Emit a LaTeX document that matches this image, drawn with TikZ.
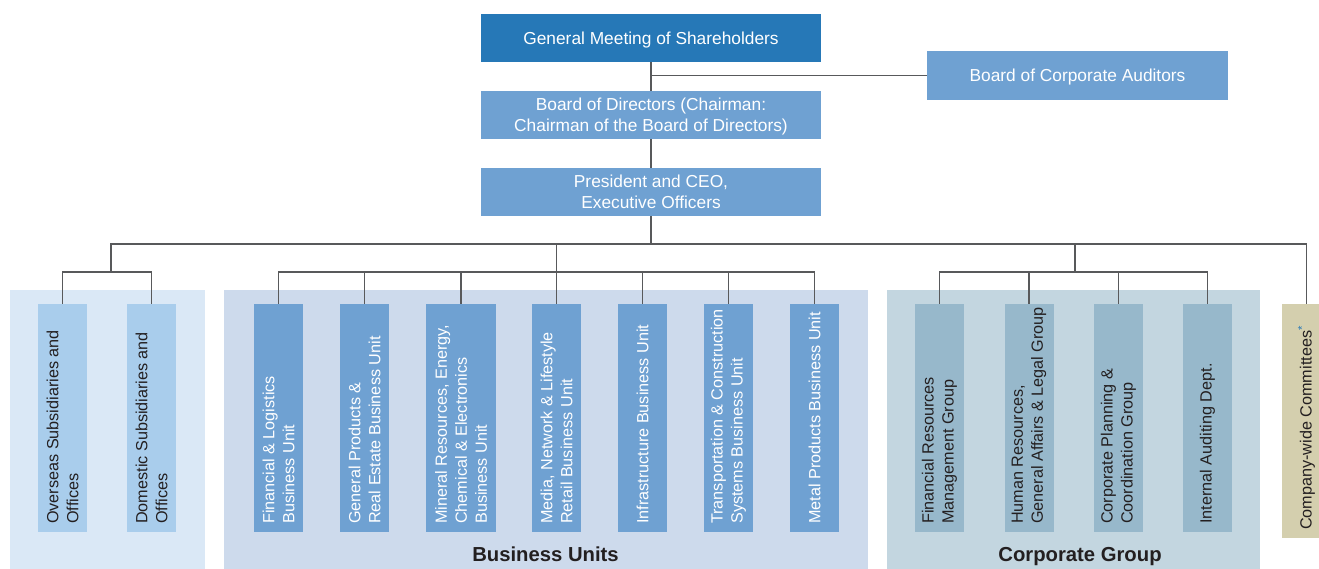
\documentclass[tikz,border=0pt]{standalone}
\usepackage{fontspec}
\setmainfont{Liberation Sans}
\definecolor{darkblue}{HTML}{2678B7}
\definecolor{midblue}{HTML}{6FA1D2}
\definecolor{leftbg}{HTML}{DAE8F6}
\definecolor{leftbox}{HTML}{A9CDEC}
\definecolor{bubg}{HTML}{CDDAEC}
\definecolor{corpbg}{HTML}{C3D6E0}
\definecolor{corpbox}{HTML}{97B8CB}
\definecolor{cwbox}{HTML}{D4CFAE}
\definecolor{linegray}{HTML}{58595B}
\definecolor{txtdark}{HTML}{231F20}
\begin{document}
\begin{tikzpicture}[x=0.75pt,y=-0.75pt,
  hbox/.style={rectangle, fill=midblue, minimum width=255pt, minimum height=36pt, inner sep=0pt, text=white, align=center, text depth=0pt, font=\fontsize{13}{15.8}\selectfont},
  vbox/.style={rectangle, minimum width=36.75pt, minimum height=171pt, inner sep=0pt},
  vlabel/.style={rotate=90, anchor=west, align=left, inner sep=0pt, font=\fontsize{12.15}{15}\selectfont},
  grouplabel/.style={anchor=base, inner sep=0pt, text=txtdark, font=\fontsize{15.2}{18}\selectfont\bfseries},
  conn/.style={draw=linegray, line width=1.1pt}]
\useasboundingbox (0,0) rectangle (1319,568);

% background panels
\fill[leftbg] (10,290) rectangle (205,570);
\fill[bubg] (224,290) rectangle (868,570);
\fill[corpbg] (887,290) rectangle (1260,570);

% top boxes
\node[hbox, fill=darkblue] (gms) at (651,38) {General Meeting of Shareholders};
\node[hbox] (bod) at (651,115) {Board of Directors (Chairman:\\Chairman of the Board of Directors)};
\node[hbox] (pres) at (651,192) {President and CEO,\\Executive Officers};
\node[hbox, minimum width=225.75pt, minimum height=36.75pt] (aud) at (1077.5,75.5) {Board of Corporate Auditors};

% left group
\node[vbox, fill=leftbox] (os) at (62.5,418) {};
\node[vbox, fill=leftbox] (ds) at (151.5,418) {};
\node[vlabel, text=txtdark] (osl) at (62.5,524) {Overseas Subsidiaries and\\Offices};
\node[vlabel, text=txtdark] (dsl) at (151.5,524) {Domestic Subsidiaries and\\Offices};

% business units
\node[vbox, fill=midblue] (bu1) at (278.5,418) {};
\node[vbox, fill=midblue] (bu2) at (364.5,418) {};
\node[vbox, fill=midblue, minimum width=52.5pt] (bu3) at (461,418) {};
\node[vbox, fill=midblue] (bu4) at (556.5,418) {};
\node[vbox, fill=midblue] (bu5) at (642.5,418) {};
\node[vbox, fill=midblue] (bu6) at (728.5,418) {};
\node[vbox, fill=midblue] (bu7) at (814.5,418) {};
\node[vlabel, text=white] (bu1l) at (278.5,524) {Financial \& Logistics\\Business Unit};
\node[vlabel, text=white] (bu2l) at (364.5,524) {General Products \&\\Real Estate Business Unit};
\node[vlabel, text=white] (bu3l) at (461,524) {Mineral Resources, Energy,\\Chemical \& Electronics\\Business Unit};
\node[vlabel, text=white] (bu4l) at (556.5,524) {Media, Network \& Lifestyle\\Retail Business Unit};
\node[vlabel, text=white] (bu5l) at (642.5,524) {Infrastructure Business Unit};
\node[vlabel, text=white] (bu6l) at (728.5,524) {Transportation \& Construction\\Systems Business Unit};
\node[vlabel, text=white] (bu7l) at (814.5,524) {Metal Products Business Unit};
\node[grouplabel] (bulab) at (545.5,561) {Business Units};

% corporate group
\node[vbox, fill=corpbox] (cg1) at (939.5,418) {};
\node[vbox, fill=corpbox] (cg2) at (1029,418) {};
\node[vbox, fill=corpbox] (cg3) at (1118.5,418) {};
\node[vbox, fill=corpbox] (cg4) at (1207.5,418) {};
\node[vlabel, text=txtdark] (cg1l) at (939.5,524) {Financial Resources\\Management Group};
\node[vlabel, text=txtdark] (cg2l) at (1029,524) {Human Resources,\\General Affairs \& Legal Group};
\node[vlabel, text=txtdark] (cg3l) at (1118.5,524) {Corporate Planning \&\\Coordination Group};
\node[vlabel, text=txtdark] (cg4l) at (1207.5,524) {Internal Auditing Dept.};
\node[grouplabel] (cglab) at (1080,561) {Corporate Group};

% company-wide committees
\node[vbox, fill=cwbox, minimum height=175.5pt] (cw) at (1306.5,421) {};
\node[vlabel, text=txtdark] (cwl) at (1306.5,530) {Company-wide Committees\textsuperscript{\textcolor{darkblue}{*}}};

% hub coordinates
\coordinate (bus) at (651,244);
\coordinate (lhub) at (111,272);
\coordinate (buhub) at (556.5,272);
\coordinate (cghub) at (1075,272);

% connectors
\draw[conn] (gms.south) -- (bod.north);
\draw[conn] (gms.south |- aud.west) -- (aud.west);
\draw[conn] (bod.south) -- (pres.north);
\draw[conn] (pres.south) -- (bus);
\draw[conn] (lhub) -- (lhub |- bus) -- (cw.north |- bus) -- (cw.north);
\draw[conn] (buhub) -- (buhub |- bus);
\draw[conn] (cghub) -- (cghub |- bus);
\draw[conn] (os.north) -- (os.north |- lhub) -- (ds.north |- lhub) -- (ds.north);
\draw[conn] (bu1.north) -- (bu1.north |- buhub) -- (bu7.north |- buhub) -- (bu7.north);
\foreach \b in {bu2,bu3,bu4,bu5,bu6}{\draw[conn] (\b.north) -- (\b.north |- buhub);}
\draw[conn] (cg1.north) -- (cg1.north |- cghub) -- (cg4.north |- cghub) -- (cg4.north);
\foreach \b in {cg2,cg3}{\draw[conn] (\b.north) -- (\b.north |- cghub);}
\end{tikzpicture}
\end{document}
